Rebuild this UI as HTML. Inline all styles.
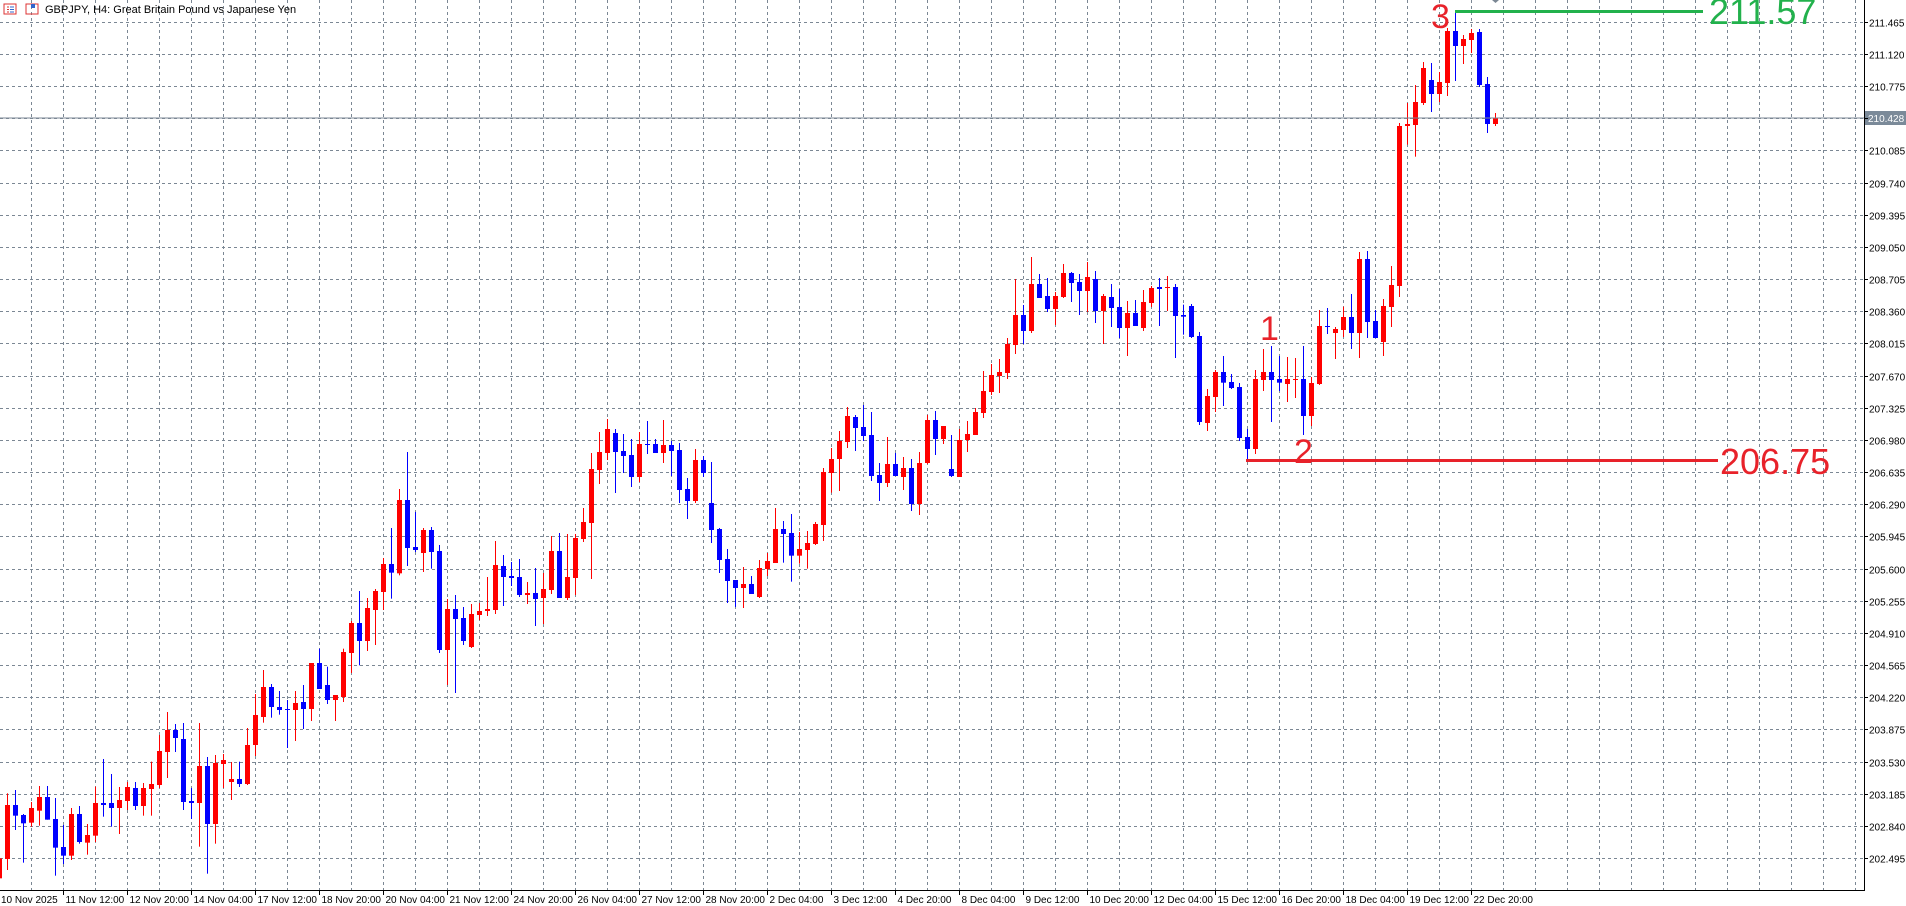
<!DOCTYPE html>
<html><head><meta charset="utf-8">
<style>
html,body{margin:0;padding:0;background:#fff;}
body{width:1906px;height:906px;overflow:hidden;position:relative;font-family:"Liberation Sans",Tahoma,sans-serif;}
svg{position:absolute;left:0;top:0;}
</style></head>
<body>
<svg id="s" width="1906" height="906" xmlns="http://www.w3.org/2000/svg">
<g id="grid"></g>
<g id="candles"></g>
<g id="ann">
 <line x1="0" y1="118" x2="1864" y2="118" stroke="#7b8794" stroke-width="1"/>
 <rect x="1864" y="111" width="42" height="14" fill="#7b8a99"/>
 <text x="1868" y="122" font-size="10" fill="#fff" font-family="Liberation Sans, sans-serif">210.428</text>
 <line x1="1455" y1="11.5" x2="1703" y2="11.5" stroke="#22b14c" stroke-width="3"/>
 <text x="1709" y="24" font-size="36" fill="#22b14c" font-family="Liberation Sans, sans-serif">211.57</text>
 <line x1="1246" y1="460.5" x2="1718" y2="460.5" stroke="#e8222a" stroke-width="3"/>
 <text x="1720" y="474" font-size="36" fill="#e8222a" font-family="Liberation Sans, sans-serif">206.75</text>
 <text x="1431" y="28" font-size="34" fill="#e8222a" font-family="Liberation Sans, sans-serif">3</text>
 <text x="1260" y="340" font-size="34" fill="#e8222a" font-family="Liberation Sans, sans-serif">1</text>
 <text x="1294" y="463" font-size="34" fill="#e8222a" font-family="Liberation Sans, sans-serif">2</text>
 <polygon points="1492,0 1499,0 1495.5,3" fill="#7b8794"/>
</g>
<g id="axes">
 <line x1="1864.5" y1="0" x2="1864.5" y2="890" stroke="#000" stroke-width="1"/>
 <line x1="0" y1="890.5" x2="1865" y2="890.5" stroke="#000" stroke-width="1"/>
</g>
<g id="labels" font-family="Liberation Sans, sans-serif" font-size="10" fill="#000"></g>
<g id="title">
 <rect x="4" y="4" width="12" height="10" fill="none" stroke="#d33" stroke-width="1"/>
 <line x1="7" y1="7" x2="9" y2="7" stroke="#d33"/><line x1="10" y1="7" x2="14" y2="7" stroke="#36c"/>
 <line x1="7" y1="9.5" x2="9" y2="9.5" stroke="#d33"/><line x1="10" y1="9.5" x2="14" y2="9.5" stroke="#36c"/>
 <line x1="7" y1="12" x2="9" y2="12" stroke="#d33"/><line x1="10" y1="12" x2="14" y2="12" stroke="#36c"/>
 <rect x="26" y="4" width="12" height="10" fill="none" stroke="#d33" stroke-width="1"/>
 <rect x="31" y="4" width="4" height="4" fill="#36c"/>
 <text x="45" y="13" font-size="11" font-family="Liberation Sans, sans-serif" fill="#000">GBPJPY, H4:  Great Britain Pound vs Japanese Yen</text>
</g>
</svg>
<script>
var NS="http://www.w3.org/2000/svg";
function el(p,t,a){var e=document.createElementNS(NS,t);for(var k in a)e.setAttribute(k,a[k]);p.appendChild(e);return e;}
var grid=document.getElementById("grid"),lab=document.getElementById("labels"),cg=document.getElementById("candles");
for(var k=0;k<=26;k++){
 var y=Math.round(21.7+32.17*k)+0.5;
 el(grid,"line",{x1:0,y1:y,x2:1864,y2:y,stroke:"#7b8794","stroke-width":1,"stroke-dasharray":"3,3"});
 el(lab,"line",{x1:1864,y1:y,x2:1868,y2:y,stroke:"#000"});
 var p=(211.465-0.345*k).toFixed(3);
 if(Math.abs(y-118)>8){var t=el(lab,"text",{x:1869,y:y+4});t.textContent=p;}
}
for(var x=31.3;x<1864;x+=32){
 var xx=Math.round(x)+0.5;
 el(grid,"line",{x1:xx,y1:0,x2:xx,y2:890,stroke:"#7b8794","stroke-width":1,"stroke-dasharray":"3,3"});
}
var dates=["11 Nov 12:00","12 Nov 20:00","14 Nov 04:00","17 Nov 12:00","18 Nov 20:00","20 Nov 04:00","21 Nov 12:00","24 Nov 20:00","26 Nov 04:00","27 Nov 12:00","28 Nov 20:00","2 Dec 04:00","3 Dec 12:00","4 Dec 20:00","8 Dec 04:00","9 Dec 12:00","10 Dec 20:00","12 Dec 04:00","15 Dec 12:00","16 Dec 20:00","18 Dec 04:00","19 Dec 12:00","22 Dec 20:00"];
var t0=el(lab,"text",{x:1,y:903});t0.textContent="10 Nov 2025";
for(var i=0;i<dates.length;i++){
 var tx=Math.round(63.3+64*i)+0.5;
 el(lab,"line",{x1:tx,y1:890,x2:tx,y2:895,stroke:"#000"});
 var t=el(lab,"text",{x:tx+2,y:903});t.textContent=dates[i];
}
var G=[
[380,-1,[["r",1435,1495,1430,1500]]],
[380,0,[
["r",1275,1437,1240,1470],["b",1275,1307,1230,1350],["b",1305,1330,1302,1448],["r",1284,1328,1266,1340],["r",1251,1292,1218,1337],["b",1251,1319,1218,1319],["b",1317,1403,1254,1487],["b",1401,1427,1335,1452],["r",1302,1427,1284,1440],["b",1302,1386,1278,1391],
["r",1365,1388,1332,1424],["r",1269,1367,1220,1386],["b",1269,1275,1137,1310],["b",1269,1284,1182,1340],["r",1260,1284,1221,1362],["r",1221,1263,1206,1290],["b",1224,1278,1206,1290],["r",1224,1278,1209,1307],["r",1212,1227,1145,1307],["r",1113,1215,1065,1224],
["r",1050,1116,996,1194],["b",1050,1074,1032,1116],["b",1077,1266,1029,1290],["b",1263,1269,1224,1317],["r",1158,1269,1029,1400],["b",1158,1332,1131,1481],["r",1149,1332,1125,1391],["r",1140,1152,1122,1224],["r",1197,1206,1146,1260],["b",1197,1212,1145,1221],
["r",1095,1212,1044,1215],["r",1005,1095,942,1128],["r",921,1011,870,1028],["b",921,981,912,1013],["b",981,990,933,1004],["b",987,990,960,1104],["r",969,990,933,1083],["b",966,987,915,1047],["r",849,987,849,1023],["b",849,927,806,927],
["b",915,960,860,972],["r",945,960,945,1023],["r",816,951,806,966],["r",729,819,723,879],["b",729,783,633,856],["r",684,783,654,813],["r",633,690,627,795],["r",552,636,534,690]]],
[300,48,[
["b",792,818,684,896],["r",600,820,567,826],["b",600,744,456,798],["b",741,750,636,756],["r",690,759,684,816],["b",690,756,681,806],["b",753,1050,735,1059],["r",927,1050,897,1155],["b",927,957,885,1179],["b",954,1023,921,1035],
["r",942,1041,912,1044],["r",933,945,909,960],["r",927,933,831,948],["r",795,930,723,942],["b",798,831,765,918],["b",828,834,786,858],["b",831,885,777,891],["r",879,885,846,912],["b",879,897,804,978],["r",867,894,819,972],
["r",753,870,708,882],["b",753,894,699,894],["r",831,894,702,900],["r",714,834,702,885],["r",666,717,624,726],["r",507,669,459,837],["r",456,510,396,552],["r",387,459,357,480],["b",399,456,387,579],["b",453,468,402,519],
["b",465,531,417,561],["r",432,531,396,546],["b",432,435,363,462],["b",432,459,417,459],["r",435,459,360,489],["b",435,453,423,528],["b",450,570,429,609],["b",567,603,534,657],["r",480,603,447,609],["b",480,519,468,531],
["b",609,690,486,729],["b",687,780,684,819],["b",777,843,747,909],["b",840,864,840,921],["r",852,864,801,924],["b",852,882,828,882],["r",804,891,780,894],["r",783,807,759,828],["r",687,789,624,789]]],
[220,97,[
["b",927,942,903,1028],["b",939,1007,882,1085],["r",987,1007,936,1031],["r",969,990,933,1046],["r",912,972,906,975],["r",756,915,744,963],["r",717,759,684,818],["r",663,717,633,813],["r",588,666,561,684],["b",591,624,585,693],
["b",621,648,555,663],["b",645,768,576,783],["b",765,789,729,843],["r",732,789,651,801],["b",732,768,699,768],["r",744,771,711,810],["b",744,852,717,873],["r",729,852,696,885],["r",600,729,585,732],["b",600,657,573,705],
["r",618,657,618,672],["b",747,768,645,771],["r",660,771,627,771],["r",642,660,603,696],["r",576,645,564,645],["r",513,579,453,594],["r",465,516,432,525],["r",456,468,417,519],["r",372,459,354,477],["r",285,375,177,402],
["b",285,333,255,372],["r",192,333,111,339],["b",192,234,162,234],["b",228,267,174,276],["r",228,267,216,315],["r",159,231,132,234],["b",159,189,156,246],["b",186,213,162,285],["r",171,213,126,276],["b",177,273,153,309],
["r",228,273,222,372],["b",231,264,192,321],["b",261,324,207,354],["r",279,324,243,408],["b",279,318,240,318],["r",246,324,210,333],["r",204,249,198,261],["b",201,207,174,318],["r",201,204,168,273],["b",201,288,192,414]]],
[0,147,[
["b",945,950,914,1004],["b",918,1011,912,1014],["b",1008,1266,996,1275],["r",1188,1269,1167,1293],["r",1116,1191,1110,1236],["b",1116,1148,1068,1218],["b",1146,1164,1122,1167],["b",1161,1314,1149,1323],["b",1311,1347,1287,1380],["r",1137,1347,1110,1362],
["r",1116,1140,1047,1173],["b",1116,1140,1038,1266],["b",1137,1148,1068,1173],["r",1137,1152,1071,1206],["r",1137,1140,1074,1194],["b",1137,1248,1038,1305],["r",1149,1248,1131,1278],["r",978,1152,930,1155],["b",978,981,924,1002],["r",987,999,981,1077],
["r",951,990,920,1011],["b",951,999,882,1047],["r",777,999,756,1074],["b",777,966,753,1014],["b",963,1014,930,1014],["r",918,1026,897,1068],["r",855,921,798,981],["r",378,858,369,891],["r",372,378,309,434],["r",306,375,255,470],
["r",204,309,186,315],["b",240,282,189,336],["r",246,282,216,306],["r",93,249,84,288],["b",93,138,39,243],["r",117,138,105,192],["r",99,120,87,159],["b",96,255,87,261],["b",252,372,231,399],["r",354,372,339,378]]]
];
for(var g=0;g<G.length;g++){
 var oy=G[g][0],k0=G[g][1],d=G[g][2];
 for(var j=0;j<d.length;j++){
  var c=d[j],k=k0+j,cx=Math.round(7.3+8*k);
  var col=c[0]=="r"?"#ff0000":"#0000ff";
  var bt=oy+c[1]/3,bb=oy+c[2]/3,hi=oy+c[3]/3,lo=oy+c[4]/3;
  el(cg,"rect",{x:cx,y:hi,width:1,height:Math.max(1,lo-hi),fill:col});
  el(cg,"rect",{x:cx-2,y:bt,width:5,height:Math.max(1,bb-bt),fill:col});
 }
}
</script>
</body></html>
